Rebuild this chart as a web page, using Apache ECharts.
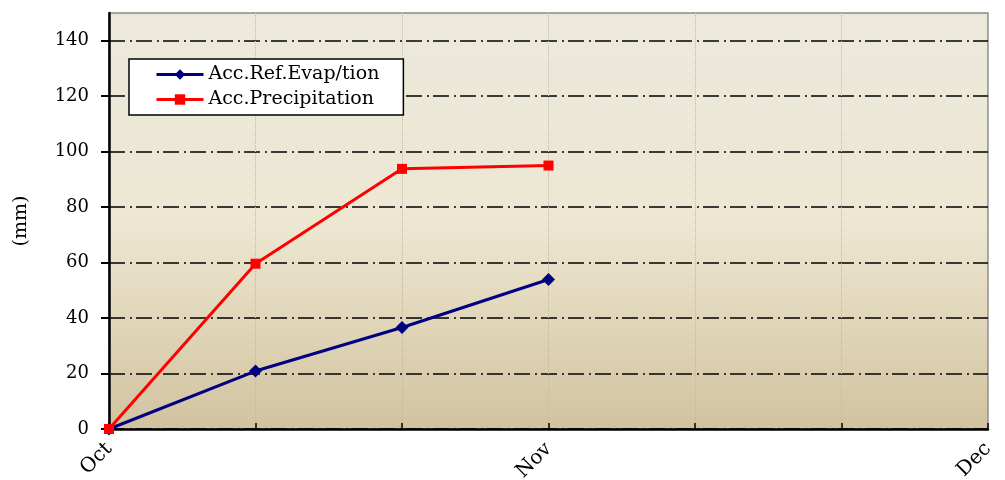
<!DOCTYPE html>
<html><head><meta charset="utf-8">
<script src="https://cdn.jsdelivr.net/npm/echarts@6/dist/echarts.min.js"></script>
<style>html,body{margin:0;padding:0;background:#fff}#c{width:1005px;height:480px}</style>
</head><body><div id="c"></div>
<script>
const xLabels = ['Oct', '', '', 'Nov', '', '', 'Dec'];
const evapName = 'Acc.Ref.Evap/tion';
const precName = 'Acc.Precipitation';
const evapValues = [0, 20.9, 36.6, 53.9];
const precValues = [0, 59.6, 93.8, 95.0];
const yTicks = [0, 20, 40, 60, 80, 100, 120, 140];

const FONT = 'DejaVu Serif';
const chart = echarts.init(document.getElementById('c'));
chart.setOption({
  animation: false,
  textStyle: { fontFamily: FONT, color: '#000' },
  grid: {
    left: 109, right: 17, top: 13, bottom: 51,
    outerBoundsMode: 'none', containLabel: false,
    show: true, borderColor: '#8a8a8a', borderWidth: 1.5,
    backgroundColor: new echarts.graphic.LinearGradient(0, 0, 0, 1, [
      { offset: 0, color: '#ECE9DC' },
      { offset: 0.5, color: '#EDE7D2' },
      { offset: 1, color: '#D2C39F' }
    ])
  },
  legend: {
    orient: 'vertical', left: 129, top: 59,
    backgroundColor: '#fff', borderColor: '#000', borderWidth: 1.5, borderRadius: 0,
    padding: [6, 24, 6, 26], itemGap: 6, itemWidth: 47, itemHeight: 13,
    lineStyle: { width: 3 },
    textStyle: { fontFamily: FONT, fontSize: 19, color: '#000' },
    data: [evapName, precName]
  },
  xAxis: {
    type: 'category', data: xLabels, boundaryGap: false,
    axisLine: { lineStyle: { color: '#000', width: 2.5 } },
    axisTick: { show: true, inside: true, length: 6, interval: 0, lineStyle: { color: '#000', width: 1.5 } },
    axisLabel: { interval: 0, rotate: 45, fontFamily: FONT, fontSize: 20, color: '#000', margin: 17 },
    splitLine: { show: true, interval: 0, lineStyle: { color: '#bdb8a8', type: 'dotted', width: 1 } }
  },
  yAxis: {
    type: 'value', min: 0, max: 150, interval: 10,
    name: '(mm)', nameLocation: 'middle', nameGap: 78, nameRotate: 90,
    nameTextStyle: { fontFamily: FONT, fontSize: 19, color: '#000' },
    axisLine: { show: true, lineStyle: { color: '#000', width: 2.5 } },
    axisTick: { show: true, length: 8, customValues: yTicks, lineStyle: { color: '#000', width: 2 } },
    axisLabel: { fontFamily: FONT, fontSize: 18, color: '#000', margin: 20, customValues: yTicks },
    splitLine: { show: true, lineStyle: { color: '#000', width: 1.6, type: [16, 5, 2, 4] } }
  },
  series: [
    {
      name: evapName, type: 'line', data: evapValues,
      symbol: 'diamond', symbolSize: 13,
      itemStyle: { color: '#000080' },
      lineStyle: { color: '#000080', width: 3 }
    },
    {
      name: precName, type: 'line', data: precValues,
      symbol: 'rect', symbolSize: 10,
      itemStyle: { color: '#ff0000' },
      lineStyle: { color: '#ff0000', width: 3 }
    }
  ]
});
</script></body></html>
